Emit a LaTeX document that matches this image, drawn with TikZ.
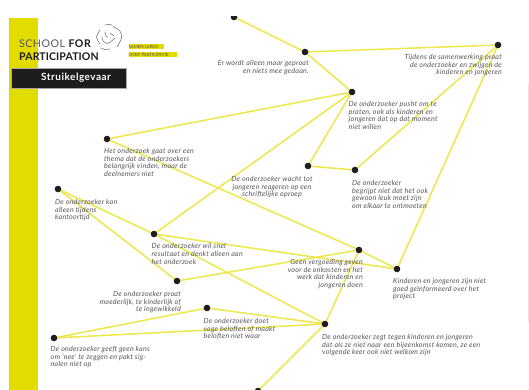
\documentclass[tikz,border=0pt]{standalone}
\usepackage{fontspec}
\setmainfont{Lato}
\definecolor{barY}{HTML}{E3DC00}
\definecolor{lineY}{HTML}{EFE64A}
\definecolor{txtG}{HTML}{55555A}
\definecolor{inkB}{HTML}{1E1C1E}
\tikzset{
  dot/.style={circle,fill=inkB,draw=none,inner sep=0pt,minimum size=6.6pt},
  link/.style={draw=lineY,line width=1.5pt},
  lab/.style={inner sep=0pt,text=txtG,font=\fontsize{7.1}{7.7}\selectfont\itshape\addfontfeatures{LetterSpace=3.5}},
  labL/.style={lab,anchor=north west,align=left},
  labR/.style={lab,anchor=north east,align=right},
  labC/.style={lab,anchor=north,align=center},
  tag/.style={inner sep=0pt,fill=barY,text=txtG,anchor=west,minimum height=5pt,align=left,font=\fontsize{4.3}{5}\selectfont},
  swirl/.style={draw=txtG!80,line width=0.6pt,line cap=round},
}
\begin{document}
\begin{tikzpicture}[x=1pt,y=-1pt]
\useasboundingbox (0,0) rectangle (529,390);
\fill[white] (0,0) rectangle (529,390);
% page decoration
\fill[barY] (10,18) rectangle (38,390);
\draw[black!25,line width=0.5pt] (9.7,18) -- (9.7,390);
\draw[black!10,line width=0.5pt] (528,85) -- (528,322);
% invisible anchors, so that connectors come first and dots lie on top
\foreach \n/\x/\y in {top/234/17,a/305/52,b/498/45,c/352/92,d/107/139,f/308/166,g/355/170,s/58/189,e/154/234,j/359/250,h/397/269,k/177/281,l/207/308,i/325/324,m/54/338,bot/258/391}
  \coordinate (p\n) at (\x,\y);
% connectors
\foreach \p/\q in {top/a,a/b,a/c,c/d,c/e,c/f,f/g,g/b,b/h,d/j,e/h,e/i,s/e,s/k,k/j,j/h,j/i,l/i,m/l,m/i,i/bot}
  \draw[link] (p\p) -- (p\q);
% dots
\foreach \n in {top,a,b,c,d,f,g,s,e,j,h,k,l,i,m,bot}
  \node[dot] (\n) at (p\n) {};
\fill[white] (0,0) rectangle (529,15.7);
% labels
\node[labR] (ta) at (309,60) {Er wordt alleen maar gepraat\\en niets mee gedaan.};
\node[labR] (tb) at (502,54) {Tijdens de samenwerking praat\\de onderzoeker en zwijgen de\\kinderen en jongeren};
\node[labL] (tc) at (348.5,101) {De onderzoeker pusht om te\\praten, ook als kinderen en\\jongeren dat op dat moment\\niet willen};
\node[labL] (tg) at (352,180) {De onderzoeker\\begrijpt niet dat het ook\\gewoon leuk moet zijn\\om elkaar te ontmoeten};
\node[labC] (tf) at (272,176) {De onderzoeker wacht tot\\jongeren reageren op een\\schriftelijke oproep};
\node[labL] (td) at (104,148) {Het onderzoek gaat over een\\thema dat de onderzoekers\\belangrijk vinden, maar de\\deelnemers niet};
\node[labL] (ts) at (55,199) {De onderzoeker kan\\alleen tijdens\\kantoortijd};
\node[labL] (te) at (151.5,243.5) {De onderzoeker wil snel\\resultaat en denkt alleen aan\\het onderzoek};
\node[labR] (tk) at (181,291) {De onderzoeker praat\\moederlijk, te kinderlijk of\\te ingewikkeld};
\node[labL] (tl) at (203.5,318) {De onderzoeker doet\\vage beloften of maakt\\beloften niet waar};
\node[labL] (tm) at (50.5,346) {De onderzoeker geeft geen kans\\om 'nee' te zeggen en pakt sig-\\nalen niet op};
\node[labR] (tj) at (363,259) {Geen vergoeding geven\\voor de onkosten en het\\werk dat kinderen en\\jongeren doen};
\node[labL] (th) at (393,278) {Kinderen en jongeren zijn niet\\goed geïnformeerd over het\\project};
\node[labL] (ti) at (322,334) {De onderzoeker zegt tegen kinderen en jongeren\\dat als ze niet naar een bijeenkomst komen, ze een\\volgende keer ook niet welkom zijn};
% logo
\node[inner sep=0pt,anchor=base west,text=txtG,font=\fontsize{10.6}{12}\selectfont\addfontfeatures{LetterSpace=4.5}] (logoa) at (19,47.5) {SCHOOL \textbf{\textcolor{inkB}{FOR}}};
\node[inner sep=0pt,anchor=base west,text=inkB,font=\fontsize{10.6}{12}\selectfont\bfseries\addfontfeatures{LetterSpace=0.8}] (logob) at (19,60.5) {PARTICIPATION};
\draw[swirl] plot[smooth] coordinates {(100,30) (96.5,37) (100,44)};
\draw[swirl] plot[smooth] coordinates {(113,26.5) (120,31) (121.5,38) (117,47)};
\draw[swirl] plot[smooth] coordinates {(101,48) (105,49.5) (110,49)};
\draw[swirl] plot[smooth] coordinates {(105,25) (109,24.5) (112,25)};
\draw[swirl] plot[smooth] coordinates {(102,37) (103,41) (108,43.5) (115,38)};
\draw[swirl] plot[smooth] coordinates {(105,32) (106,36) (108,37)};
\draw[swirl] plot[smooth] coordinates {(110,33) (114,36)};
\node[tag,text width=35pt] (taga) at (128.5,47) {SAMEN LEREN};
\node[tag,text width=48pt] (tagb) at (128.5,54.5) {OVER PARTICIPATIE};
\node[fill=inkB,draw=black!35,line width=0.3pt,minimum width=115pt,minimum height=20pt,inner sep=0pt,anchor=north west] (box) at (10.5,68.5) {};
\node[inner sep=0pt,anchor=base west,text=white,font=\fontsize{10}{11}\selectfont\bfseries\addfontfeatures{LetterSpace=5}] (title) at (41,81) {Struikelgevaar};
\end{tikzpicture}
\end{document}
